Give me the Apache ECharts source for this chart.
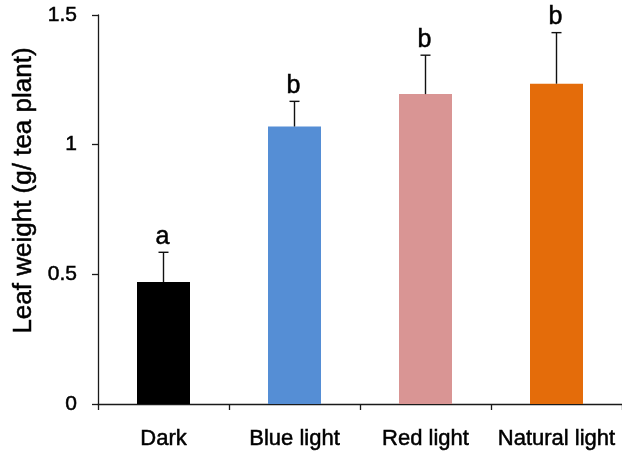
<!DOCTYPE html>
<html>
<head>
<meta charset="utf-8">
<script src="https://cdn.jsdelivr.net/npm/echarts@6/dist/echarts.min.js"></script>
<style>html,body{margin:0;padding:0;background:#fff}#c{width:622px;height:456px}</style>
</head>
<body>
<div id="c"></div>
<script>
var categories = ['Dark', 'Blue light', 'Red light', 'Natural light'];
var means = [0.47, 1.07, 1.195, 1.235];
var errors = [0.115, 0.097, 0.15, 0.197];
var letters = ['a', 'b', 'b', 'b'];
var colors = ['#000000', '#558ed5', '#d99594', '#e46c0a'];
var yTicks = { min: 0, max: 1.5, interval: 0.5 };

var FONT = 'Arial, "Liberation Sans", sans-serif';
var THICK = { textBorderColor: '#000', textBorderWidth: 0.5 };
var chart = echarts.init(document.getElementById('c'), null, { renderer: 'canvas' });

var barData = means.map(function (v, i) {
  return { value: v, itemStyle: { color: colors[i] } };
});
var errData = means.map(function (v, i) { return [i, v, errors[i]]; });

chart.setOption({
  animation: false,
  backgroundColor: '#ffffff',
  grid: { left: 98, top: 15, width: 530, height: 389 },
  xAxis: {
    type: 'category',
    data: categories,
    axisLine: { lineStyle: { color: '#1a1a1a', width: 1.3 } },
    axisTick: { show: true, length: 6, alignWithLabel: false, lineStyle: { color: '#1a1a1a', width: 1.3 } },
    axisLabel: Object.assign({ color: '#000', fontSize: 22, fontFamily: FONT, margin: 24, interval: 0 }, THICK)
  },
  yAxis: {
    type: 'value',
    min: yTicks.min, max: yTicks.max, interval: yTicks.interval,
    name: 'Leaf weight (g/ tea plant)',
    nameLocation: 'middle',
    nameRotate: 90,
    nameGap: 60,
    nameTextStyle: Object.assign({ color: '#000', fontSize: 26, fontFamily: FONT, padding: [0, 0, 0, 38] }, THICK),
    splitLine: { show: false },
    axisLine: { show: true, lineStyle: { color: '#1a1a1a', width: 1.3 } },
    axisTick: { show: true, length: 6, lineStyle: { color: '#1a1a1a', width: 1.3 } },
    axisLabel: Object.assign({ color: '#000', fontSize: 21, fontFamily: FONT, margin: 21 }, THICK)
  },
  series: [
    {
      type: 'bar',
      data: barData,
      barWidth: 53
    },
    {
      type: 'custom',
      data: errData,
      z: 3,
      renderItem: function (params, api) {
        var i = api.value(0);
        var m = api.value(1);
        var e = api.value(2);
        var base = api.coord([i, m]);
        var top = api.coord([i, m + e]);
        var hw = 5;
        var st = { stroke: '#111', lineWidth: 1.4 };
        return {
          type: 'group',
          children: [
            { type: 'line', shape: { x1: top[0], y1: base[1], x2: top[0], y2: top[1] }, style: st },
            { type: 'line', shape: { x1: top[0] - hw, y1: top[1], x2: top[0] + hw, y2: top[1] }, style: st },
            { type: 'text', style: {
                text: letters[params.dataIndex], x: top[0] - 1, y: top[1] - 3,
                align: 'center', verticalAlign: 'bottom',
                fontSize: 25, fontFamily: FONT, fill: '#000',
                stroke: '#000', lineWidth: 0.5
              } }
          ]
        };
      }
    }
  ]
});
</script>
</body>
</html>
